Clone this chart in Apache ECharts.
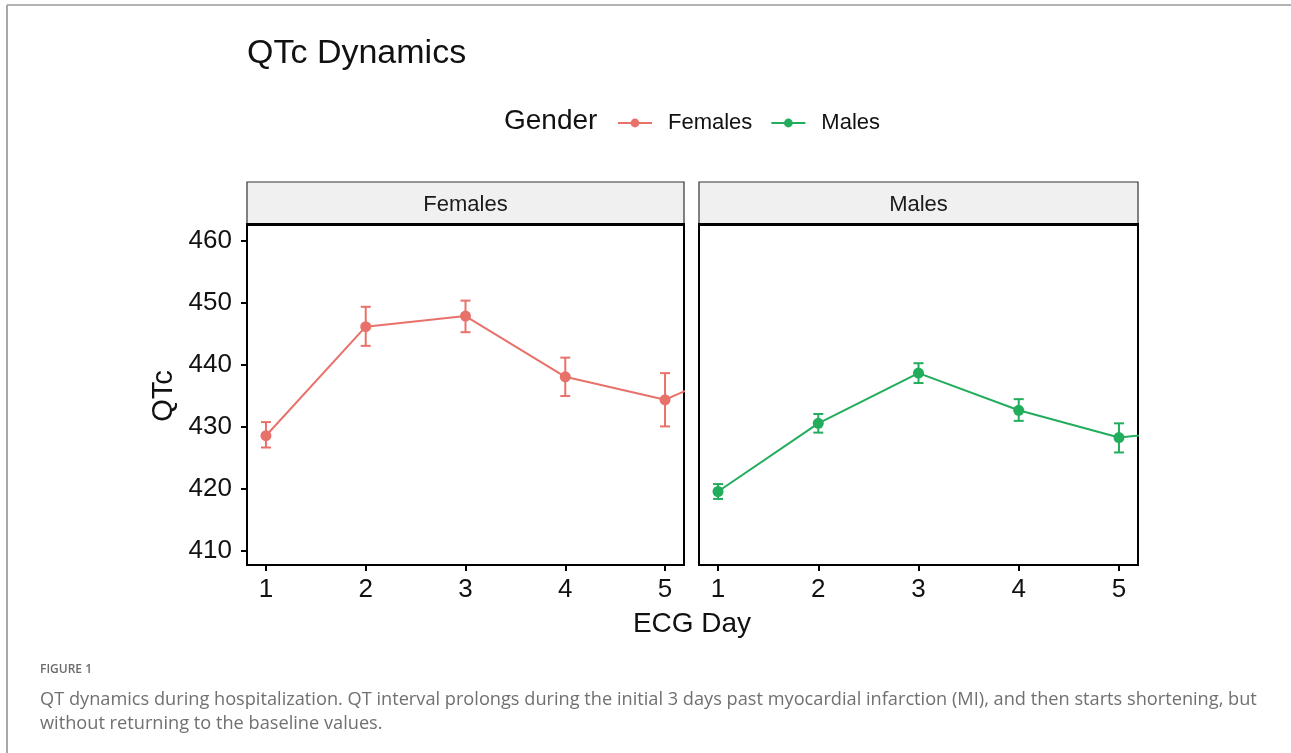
<!DOCTYPE html>
<html>
<head>
<meta charset="utf-8">
<title>QTc Dynamics</title>
<script src="https://cdn.jsdelivr.net/npm/echarts@6/dist/echarts.min.js"></script>
<style>
  html, body { margin: 0; padding: 0; background: #fff; }
  #chart { width: 1291px; height: 753px; }
</style>
</head>
<body>
<div id="chart"></div>
<script>
// ECG day on the x axis (day 6 sits past the visible window, so only its line segment enters the panel)
const days = [1, 2, 3, 4, 5, 6];
const dayTicks = [1, 2, 3, 4, 5];
const qtcTicks = [410, 420, 430, 440, 450, 460];

// Mean QTc per day
const femaleMean = [428.6, 446.2, 447.9, 438.1, 434.4, 441.5];
const maleMean   = [419.6, 430.6, 438.7, 432.7, 428.3, 430.0];

// Error bar limits, days 1-5
const femaleLow  = [426.7, 443.1, 445.3, 435.0, 430.1];
const femaleHigh = [430.8, 449.4, 450.4, 441.2, 438.7];
const maleLow    = [418.4, 429.1, 437.1, 431.0, 425.9];
const maleHigh   = [420.8, 432.1, 440.3, 434.5, 430.6];

const panels = ['Females', 'Males'];
const colors = { Females: '#E8716A', Males: '#22AD5C' };

const FONT = '"Liberation Sans", Arial, sans-serif';

const pairs = (xs, ys) => ys.map((y, i) => [xs[i], y]);
const triples = (xs, lo, hi) => lo.map((l, i) => [xs[i], l, hi[i]]);

function renderErr(params, api) {
  const x = api.value(0);
  const pLo = api.coord([x, api.value(1)]);
  const pHi = api.coord([x, api.value(2)]);
  const half = 5;
  const style = { stroke: api.visual('color'), lineWidth: 2 };
  return {
    type: 'group',
    children: [
      { type: 'line', shape: { x1: pLo[0], y1: pLo[1], x2: pHi[0], y2: pHi[1] }, style },
      { type: 'line', shape: { x1: pLo[0] - half, y1: pLo[1], x2: pLo[0] + half, y2: pLo[1] }, style },
      { type: 'line', shape: { x1: pHi[0] - half, y1: pHi[1], x2: pHi[0] + half, y2: pHi[1] }, style }
    ]
  };
}

const gridBoxes = [
  { left: 247, top: 225, width: 437, height: 340 },
  { left: 699, top: 225, width: 439, height: 340 }
];

const grids = gridBoxes.map(b => Object.assign({
  show: true, borderColor: '#000', borderWidth: 2, backgroundColor: '#fff'
}, b));

const xAxes = gridBoxes.map((b, i) => ({
  type: 'value', gridIndex: i, min: 0.81, max: 5.19,
  axisLine: { show: true, lineStyle: { color: '#000', width: 2 } },
  axisTick: { show: true, length: 6, lineStyle: { color: '#000', width: 2 }, customValues: dayTicks },
  axisLabel: { show: true, customValues: dayTicks, color: '#111', fontSize: 26, fontFamily: FONT, margin: 12 },
  splitLine: { show: false }
}));

const yAxes = gridBoxes.map((b, i) => ({
  type: 'value', gridIndex: i, min: 407.74, max: 462.6,
  axisLine: { show: true, lineStyle: { color: '#000', width: 2 } },
  axisTick: { show: i === 0, length: 6, lineStyle: { color: '#000', width: 2 }, customValues: qtcTicks },
  axisLabel: { show: i === 0, customValues: qtcTicks, color: '#111', fontSize: 26, fontFamily: FONT, margin: 15 },
  splitLine: { show: false }
}));

const groups = {
  Females: { mean: femaleMean, low: femaleLow, high: femaleHigh },
  Males:   { mean: maleMean,   low: maleLow,   high: maleHigh }
};

const series = [];
panels.forEach((name, i) => {
  const g = groups[name];
  series.push({
    name: name + ' error', type: 'custom', xAxisIndex: i, yAxisIndex: i,
    itemStyle: { color: colors[name] }, clip: true,
    renderItem: renderErr, encode: { x: 0, y: [1, 2] },
    data: triples(days, g.low, g.high), silent: true, z: 2
  });
  series.push({
    name: name, type: 'line', xAxisIndex: i, yAxisIndex: i,
    data: pairs(days, g.mean), clip: true,
    color: colors[name],
    lineStyle: { color: colors[name], width: 2 },
    symbol: 'circle', symbolSize: 11, showSymbol: false,
    itemStyle: { color: colors[name] }, z: 3, animation: false
  });
  series.push({
    name: name + ' points', type: 'scatter', xAxisIndex: i, yAxisIndex: i,
    data: pairs(days, g.mean).slice(0, dayTicks.length),
    symbol: 'circle', symbolSize: 11, clip: true,
    itemStyle: { color: colors[name], opacity: 1 }, z: 4
  });
});

// Facet strips above each panel
const strips = [];
gridBoxes.forEach((b, i) => {
  strips.push({
    type: 'rect', shape: { x: b.left, y: 182, width: b.width, height: 42 },
    style: { fill: '#F0F0F0', stroke: '#333', lineWidth: 1.2 }, z: 10
  });
  strips.push({
    type: 'line', shape: { x1: b.left - 1, y1: 224.5, x2: b.left + b.width + 1, y2: 224.5 },
    style: { stroke: '#000', lineWidth: 3 }, z: 11
  });
  strips.push({
    type: 'text', x: b.left + b.width / 2, y: 205,
    style: { text: panels[i], font: '22px ' + FONT, fill: '#1a1a1a', textAlign: 'center', textVerticalAlign: 'middle' },
    z: 12
  });
});

const option = {
  animation: false,
  backgroundColor: '#fff',
  title: {
    text: 'QTc Dynamics', left: 242, top: 32,
    textStyle: { fontFamily: FONT, fontSize: 34, fontWeight: 'normal', color: '#111' }
  },
  legend: {
    data: panels, left: 612, top: 107, itemWidth: 34, itemHeight: 11, itemGap: 18,
    textStyle: { fontFamily: FONT, fontSize: 22, color: '#111', padding: [0, 0, 0, 11] }
  },
  grid: grids,
  xAxis: xAxes,
  yAxis: yAxes,
  series: series,
  graphic: [
    // page frame
    { type: 'line', shape: { x1: 7, y1: 5, x2: 1291, y2: 5 }, style: { stroke: '#B3B3B3', lineWidth: 2 } },
    { type: 'line', shape: { x1: 7, y1: 5, x2: 7, y2: 753 }, style: { stroke: '#A8A8A8', lineWidth: 2 } },
    // legend title
    { type: 'text', x: 504, y: 121,
      style: { text: 'Gender', font: '28px ' + FONT, fill: '#111', textVerticalAlign: 'middle' } },
    // axis titles
    { type: 'text', x: 692, y: 624,
      style: { text: 'ECG Day', font: '28px ' + FONT, fill: '#111', textAlign: 'center', textVerticalAlign: 'middle' } },
    { type: 'text', x: 164, y: 396, rotation: Math.PI / 2,
      style: { text: 'QTc', font: '29px ' + FONT, fill: '#111', textAlign: 'center', textVerticalAlign: 'middle' } },
    // figure caption
    { type: 'text', x: 40, y: 670,
      style: { text: 'FIGURE 1', font: '600 12px "Open Sans", sans-serif', fill: '#6B6B6B', textVerticalAlign: 'middle' } },
    { type: 'text', x: 40, y: 700,
      style: { text: 'QT dynamics during hospitalization. QT interval prolongs during the initial 3 days past myocardial infarction (MI), and then starts shortening, but',
        font: '18.2px "Open Sans", sans-serif', fill: '#707070', textVerticalAlign: 'middle' } },
    { type: 'text', x: 40, y: 724,
      style: { text: 'without returning to the baseline values.',
        font: '18.2px "Open Sans", sans-serif', fill: '#707070', textVerticalAlign: 'middle' } }
  ].concat(strips)
};

const chart = echarts.init(document.getElementById('chart'), null, { renderer: 'canvas' });
chart.setOption(option);
</script>
</body>
</html>
